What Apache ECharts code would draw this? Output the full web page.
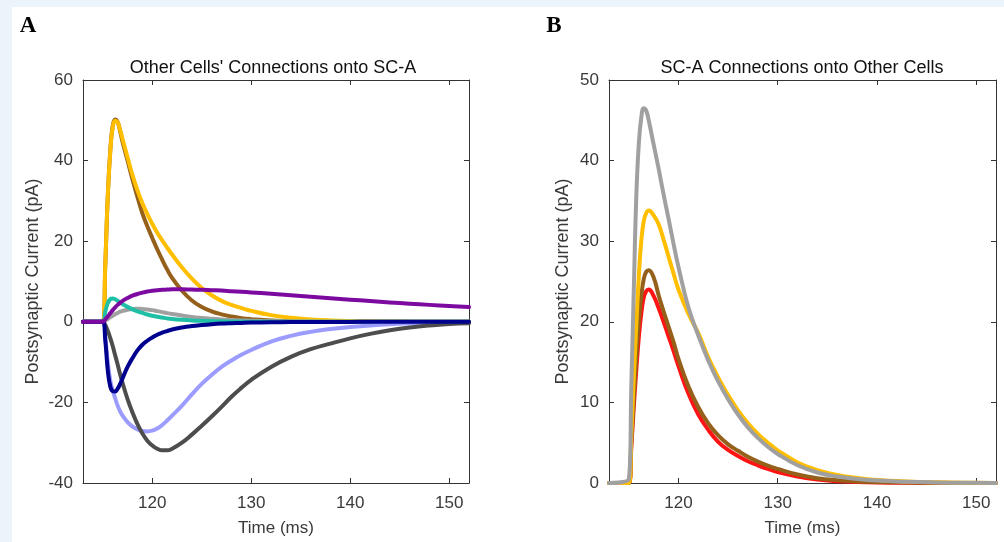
<!DOCTYPE html>
<html>
<head>
<meta charset="utf-8">
<script src="https://cdn.jsdelivr.net/npm/echarts@6/dist/echarts.min.js"></script>
<style>
html,body{margin:0;padding:0;background:#EBF4FA;}
#paper{position:absolute;left:12px;top:7px;right:0;bottom:0;background:#ffffff;}
#chart{position:absolute;left:0;top:0;width:1004px;height:542px;}
</style>
</head>
<body>
<div id="paper"></div>
<div id="chart"></div>
<script>
// ---------- Panel A: Other Cells' Connections onto SC-A ----------
const timeA = [113, 115, 115.25, 115.5, 115.75, 116, 116.25, 116.5, 116.75, 117, 117.5, 118, 118.5, 119, 119.5, 120, 120.5, 121, 121.5, 122, 123, 124, 125, 126, 127, 128, 129, 130, 132, 134, 136, 138, 140, 142, 144, 146, 148, 150, 152];
const brownA = [0, 0, 14, 31, 42.3, 48.6, 50.2, 49.6, 47.3, 44.6, 40.0, 35.3, 31.0, 26.9, 23.7, 20.8, 18.0, 15.4, 13.0, 10.9, 7.7, 5.3, 3.7, 2.6, 1.85, 1.3, 0.9, 0.65, 0.3, 0.15, 0.07, 0.03, 0, 0, 0, 0, 0, 0, 0];
const orangeA = [0, 0, 14, 31, 42, 48.3, 49.9, 49.5, 47.6, 45.3, 40.8, 36.4, 32.6, 29.4, 26.7, 24.3, 22.1, 20.2, 18.4, 16.7, 13.5, 10.7, 8.4, 6.6, 5.2, 4.2, 3.4, 2.7, 1.65, 1.0, 0.6, 0.35, 0.2, 0.12, 0.07, 0.04, 0.02, 0.01, 0];
const grayA = [0, 0, 0.3, 0.7, 1.1, 1.5, 1.9, 2.2, 2.5, 2.7, 3.0, 3.2, 3.25, 3.2, 3.05, 2.9, 2.65, 2.4, 2.15, 1.95, 1.55, 1.2, 0.95, 0.75, 0.58, 0.45, 0.35, 0.27, 0.16, 0.1, 0.06, 0.03, 0.02, 0, 0, 0, 0, 0, 0];
const tealA = [0, 0, 2.5, 4.6, 5.6, 5.8, 5.6, 5.2, 4.8, 4.4, 3.7, 3.1, 2.6, 2.2, 1.8, 1.5, 1.25, 1.05, 0.85, 0.7, 0.5, 0.35, 0.25, 0.18, 0.12, 0.08, 0.05, 0.03, 0, 0, 0, 0, 0, 0, 0, 0, 0, 0, 0];
const lightBlueA = [0, 0, -4, -10, -14.5, -17.0, -19.0, -20.8, -22.2, -23.3, -24.9, -26.0, -26.7, -27.1, -27.2, -27.0, -26.5, -25.6, -24.5, -23.3, -20.8, -18.0, -15.4, -13.2, -11.2, -9.6, -8.2, -7.0, -4.9, -3.5, -2.5, -1.8, -1.3, -0.9, -0.6, -0.4, -0.25, -0.15, -0.1];
const darkGrayA = [0, 0, -0.8, -2.2, -4.0, -6.0, -8.3, -10.6, -13.0, -15.2, -19.2, -22.5, -25.4, -27.7, -29.5, -30.7, -31.5, -31.9, -31.9, -31.5, -30.0, -28.0, -25.8, -23.5, -21.1, -18.6, -16.4, -14.4, -11.2, -8.7, -6.8, -5.4, -4.1, -3.0, -2.1, -1.4, -0.9, -0.55, -0.35];
const navyA = [0, 0, -4.5, -12.0, -16.0, -17.2, -17.3, -16.6, -15.4, -14.0, -11.2, -9.0, -7.1, -5.7, -4.7, -3.9, -3.2, -2.7, -2.3, -1.9, -1.4, -1.05, -0.8, -0.6, -0.45, -0.35, -0.27, -0.2, -0.12, -0.08, -0.05, -0.03, -0.02, 0, 0, 0, 0, 0, 0];
const purpleA = [0, 0, 0.6, 1.3, 2.1, 2.9, 3.6, 4.2, 4.7, 5.2, 5.9, 6.5, 6.9, 7.25, 7.5, 7.7, 7.85, 7.95, 8.0, 8.05, 8.05, 8.0, 7.95, 7.85, 7.75, 7.6, 7.45, 7.3, 6.95, 6.6, 6.2, 5.85, 5.5, 5.15, 4.8, 4.5, 4.2, 3.9, 3.65];

// ---------- Panel B: SC-A Connections onto Other Cells ----------
const timeB = [113, 115, 115.25, 115.5, 115.75, 116, 116.25, 116.5, 116.75, 117, 117.5, 118, 118.5, 119, 119.5, 120, 121, 122, 123, 124, 125, 126, 127, 128, 129, 130, 132, 134, 136, 138, 140, 143, 146, 149, 152];
const redB = [0, 0, 4.5, 9.5, 14, 18, 21, 23, 23.8, 24.0, 23.2, 21.7, 20.0, 18.2, 16.4, 14.5, 11.1, 8.5, 6.6, 5.1, 4.1, 3.35, 2.7, 2.2, 1.75, 1.35, 0.8, 0.42, 0.22, 0.12, 0.06, 0.02, 0, 0, 0];
const brownB = [0, 0, 5, 10.5, 15.5, 20, 23.2, 25.3, 26.2, 26.4, 25.5, 23.3, 21.3, 19.4, 17.5, 15.4, 12.0, 9.4, 7.4, 5.9, 4.8, 4.0, 3.25, 2.65, 2.15, 1.75, 1.05, 0.6, 0.35, 0.2, 0.12, 0.05, 0.02, 0, 0];
const orangeB = [0, 0, 6, 13, 19.5, 25.5, 30, 32.5, 33.5, 33.8, 33.2, 32.1, 30.2, 28.1, 26.0, 24.0, 21.0, 18.6, 15.6, 13.1, 10.9, 9.0, 7.4, 6.1, 5.0, 4.05, 2.55, 1.6, 1.0, 0.62, 0.37, 0.18, 0.08, 0.03, 0];
const grayB = [0, 0.5, 12, 24, 35.5, 42, 45.3, 46.5, 46.2, 45, 42, 39, 35.8, 32.8, 29.7, 26.8, 21.8, 18.3, 15.2, 12.6, 10.4, 8.5, 6.9, 5.6, 4.5, 3.6, 2.2, 1.3, 0.8, 0.5, 0.3, 0.15, 0.07, 0.03, 0];

// ---------- Axis ticks / labels ----------
const timeTicks = [120, 130, 140, 150];
const timeMin = 113, timeMax = 152;
const yA = {min: -40, max: 60, interval: 20};
const yB = {min: 0, max: 50, interval: 10};

const titleA = "Other Cells' Connections onto SC-A";
const titleB = "SC-A Connections onto Other Cells";
const xName = "Time (ms)";
const yName = "Postsynaptic Current (pA)";

const FONT = "'Liberation Sans', Arial, sans-serif";
const axisColor = '#333333';
const labelColor = '#3a3a3a';

function pairs(ts, vs) { return ts.map((t, i) => [t, vs[i]]); }

function xAxes(gridIndex) {
  return [
    {
      type: 'value', gridIndex: gridIndex, position: 'bottom', min: timeMin, max: timeMax,
      axisLine: {show: true, onZero: false, lineStyle: {color: axisColor, width: 1}},
      axisTick: {show: true, inside: true, length: 5, customValues: timeTicks, lineStyle: {color: axisColor}},
      axisLabel: {show: true, customValues: timeTicks, color: labelColor, fontSize: 17, fontFamily: FONT, margin: 12},
      splitLine: {show: false},
      name: xName, nameLocation: 'middle', nameGap: 37,
      nameTextStyle: {color: labelColor, fontSize: 17, fontFamily: FONT}
    },
    {
      type: 'value', gridIndex: gridIndex, position: 'top', min: timeMin, max: timeMax,
      axisLine: {show: true, onZero: false, lineStyle: {color: axisColor, width: 1}},
      axisTick: {show: true, inside: true, length: 5, customValues: timeTicks, lineStyle: {color: axisColor}},
      axisLabel: {show: false},
      splitLine: {show: false}
    }
  ];
}
function yAxes(gridIndex, cfg, gap) {
  return [
    {
      type: 'value', gridIndex: gridIndex, position: 'left', min: cfg.min, max: cfg.max, interval: cfg.interval,
      axisLine: {show: true, onZero: false, lineStyle: {color: axisColor, width: 1}},
      axisTick: {show: true, inside: true, length: 5, lineStyle: {color: axisColor}},
      axisLabel: {show: true, color: labelColor, fontSize: 17, fontFamily: FONT, margin: 10},
      splitLine: {show: false},
      name: yName, nameLocation: 'middle', nameGap: gap, nameRotate: 90,
      nameTextStyle: {color: labelColor, fontSize: 18, fontFamily: FONT}
    },
    {
      type: 'value', gridIndex: gridIndex, position: 'right', min: cfg.min, max: cfg.max, interval: cfg.interval,
      axisLine: {show: true, onZero: false, lineStyle: {color: axisColor, width: 1}},
      axisTick: {show: true, inside: true, length: 5, lineStyle: {color: axisColor}},
      axisLabel: {show: false},
      splitLine: {show: false}
    }
  ];
}

function line(name, ts, vs, color, xi, yi, z) {
  return {
    name: name, type: 'line', xAxisIndex: xi, yAxisIndex: yi, data: pairs(ts, vs),
    showSymbol: false, symbol: 'none', smooth: 0.45, z: z,
    lineStyle: {color: color, width: 4, cap: 'round', join: 'round'},
    emphasis: {disabled: true}, animation: false
  };
}

const chart = echarts.init(document.getElementById('chart'), null, {renderer: 'canvas'});
chart.setOption({
  animation: false,
  backgroundColor: 'transparent',
  grid: [
    {left: 83, top: 80, width: 386, height: 405},
    {left: 609, top: 80, width: 387, height: 405}
  ],
  xAxis: [].concat(xAxes(0), xAxes(1)),
  yAxis: [].concat(yAxes(0, yA, 41), yAxes(1, yB, 37)),
  series: [
    line('brownA', timeA, brownA, '#94601A', 0, 0, 2),
    line('orangeA', timeA, orangeA, '#FFBE00', 0, 0, 3),
    line('grayA', timeA, grayA, '#A0A0A0', 0, 0, 4),
    line('tealA', timeA, tealA, '#1FBFA5', 0, 0, 5),
    line('lightBlueA', timeA, lightBlueA, '#9C9CFF', 0, 0, 6),
    line('darkGrayA', timeA, darkGrayA, '#4D4D4D', 0, 0, 7),
    line('navyA', timeA, navyA, '#00008E', 0, 0, 8),
    line('purpleA', timeA, purpleA, '#7D0AA0', 0, 0, 9),
    line('redB', timeB, redB, '#FF1414', 2, 2, 2),
    line('brownB', timeB, brownB, '#94601A', 2, 2, 3),
    line('orangeB', timeB, orangeB, '#FFBE00', 2, 2, 4),
    line('grayB', timeB, grayB, '#A0A0A0', 2, 2, 5)
  ],
  graphic: [
    {type: 'text', x: 273, y: 68, style: {text: titleA, fill: '#111', font: '18px ' + FONT, textAlign: 'center', textVerticalAlign: 'middle'}},
    {type: 'text', x: 802, y: 68, style: {text: titleB, fill: '#111', font: '18px ' + FONT, textAlign: 'center', textVerticalAlign: 'middle'}},
    {type: 'text', x: 28, y: 26, style: {text: 'A', fill: '#000', font: 'bold 23px "Liberation Serif", "DejaVu Serif", serif', textAlign: 'center', textVerticalAlign: 'middle'}},
    {type: 'text', x: 554, y: 26, style: {text: 'B', fill: '#000', font: 'bold 23px "Liberation Serif", "DejaVu Serif", serif', textAlign: 'center', textVerticalAlign: 'middle'}}
  ]
});
</script>
</body>
</html>
